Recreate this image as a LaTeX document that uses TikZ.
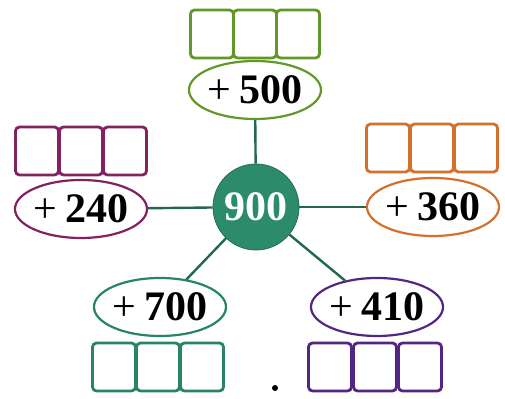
\documentclass[tikz,border=0pt]{standalone}
\usepackage{fontspec}
\usetikzlibrary{shapes.geometric}
\newfontfamily\numfont{Liberation Serif}
\newcommand\plusop{{\mdseries+}\hspace{4pt}}
\definecolor{hubgreen}{RGB}{44,139,106}
\definecolor{topgreen}{RGB}{98,152,40}
\definecolor{leftplum}{RGB}{130,34,96}
\definecolor{rightorange}{RGB}{210,112,44}
\definecolor{lowteal}{RGB}{40,132,102}
\definecolor{lowpurple}{RGB}{84,38,132}
\begin{document}
\begin{tikzpicture}[x=0.5pt,y=-0.5pt,
    hub/.style={circle,fill=hubgreen,draw=hubgreen!80!black,minimum size=43pt,inner sep=0pt,text=white,font=\numfont\fontsize{21}{24}\selectfont\bfseries},
    addend/.style={ellipse,draw=#1,line width=1.1pt,minimum width=66pt,minimum height=29pt,inner xsep=-2pt,inner ysep=0pt,font=\numfont\fontsize{21}{24}\selectfont\bfseries},
    cell/.style={draw=#1,rounded corners=2pt,line width=1.4pt,minimum width=21.5pt,minimum height=24pt,inner sep=0pt},
    spoke/.style={draw=hubgreen!75!black,line width=1.2pt}]
    \useasboundingbox (0,0) rectangle (505,399);

    % Center
    \node[hub] (hub) at (256,207) {900};

    % Addends
    \node[addend=topgreen] (top) at (255,90) {\plusop 500};
    \node[addend=leftplum] (left) at (81,209) {\plusop 240};
    \node[addend=rightorange] (right) at (433,207) {\plusop 360};
    \node[addend=lowteal] (lowleft) at (160,307) {\plusop 700};
    \node[addend=lowpurple] (lowright) at (377,307) {\plusop 410};

    % Spokes
    \draw[spoke] (hub) -- (top);
    \draw[spoke] (hub) -- (left);
    \draw[spoke] (hub) -- (right);
    \draw[spoke] (hub) -- (lowleft);
    \draw[spoke] (hub) -- (lowright);

    % Answer boxes
    \node[cell=topgreen] (top1) at (212,34) {};
    \node[cell=topgreen] (top2) at (255,34) {};
    \node[cell=topgreen] (top3) at (298,34) {};
    \node[cell=leftplum] (left1) at (37,151) {};
    \node[cell=leftplum] (left2) at (81,151) {};
    \node[cell=leftplum] (left3) at (125,151) {};
    \node[cell=rightorange] (right1) at (388,148) {};
    \node[cell=rightorange] (right2) at (432,148) {};
    \node[cell=rightorange] (right3) at (476,148) {};
    \node[cell=lowteal] (lowleft1) at (114,367) {};
    \node[cell=lowteal] (lowleft2) at (158,367) {};
    \node[cell=lowteal] (lowleft3) at (202,367) {};
    \node[cell=lowpurple] (lowright1) at (330,367) {};
    \node[cell=lowpurple] (lowright2) at (375,367) {};
    \node[cell=lowpurple] (lowright3) at (420,367) {};

    % Stray dot
    \fill (275,388) circle (1.5pt);
\end{tikzpicture}
\end{document}
